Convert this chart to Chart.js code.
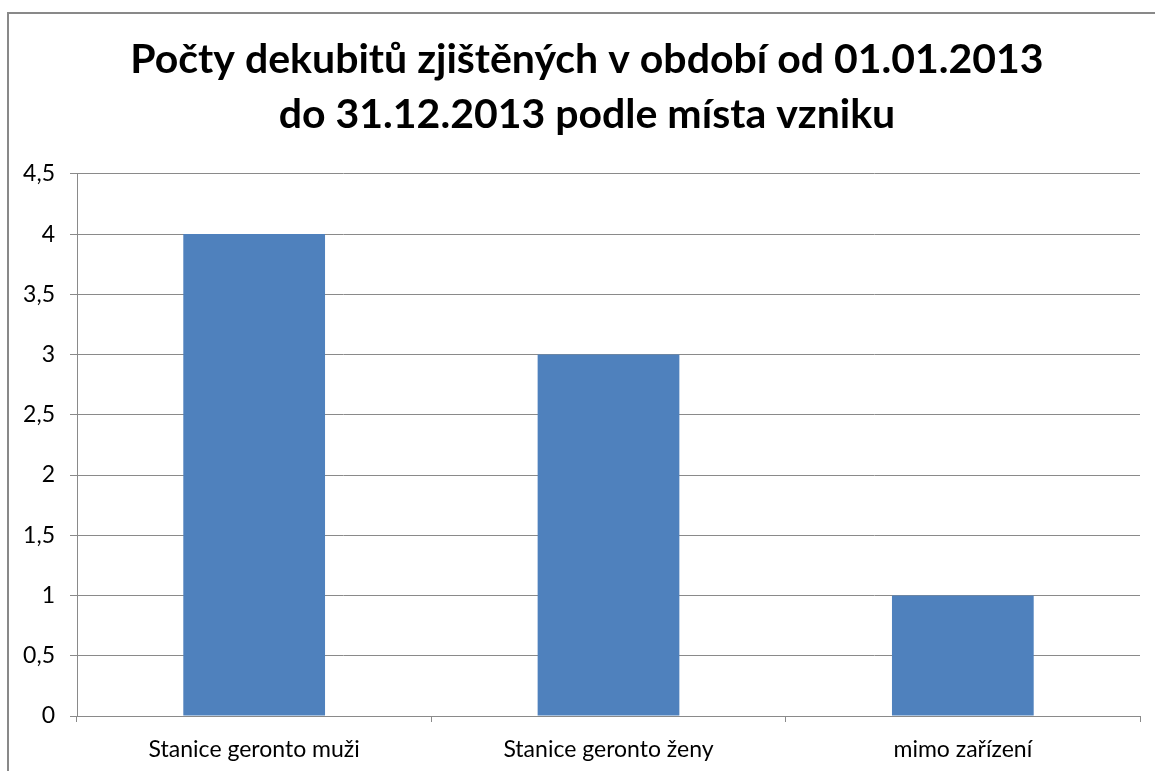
<!DOCTYPE html>
<html>
<head>
<meta charset="utf-8">
<script src="https://cdn.jsdelivr.net/npm/chart.js@4"></script>
<style>
  html, body { margin: 0; padding: 0; background: #fff; }
  #wrap { position: relative; width: 1155px; height: 771px; overflow: hidden; }
  #frame { position: absolute; left: 7px; top: 12px; width: 1200px; height: 800px; border: 2px solid #898989; box-sizing: border-box; }
  canvas { position: absolute; left: 0; top: 0; }
</style>
</head>
<body>
<div id="wrap">
  <div id="frame"></div>
  <canvas id="c" width="1155" height="771"></canvas>
</div>
<script>
const titleLines = ["Počty dekubitů zjištěných v období od 01.01.2013", "do 31.12.2013 podle místa vzniku"];
const categories = ["Stanice geronto muži", "Stanice geronto ženy", "mimo zařízení"];
const counts = [4, 3, 1];
const yMin = 0, yMax = 4.5, yStep = 0.5;

const gridColor = "#8a8a8a";

new Chart(document.getElementById("c"), {
  type: "bar",
  data: {
    labels: categories,
    datasets: [{
      data: counts,
      backgroundColor: "#4F81BD",
      borderWidth: 0,
      categoryPercentage: 1.0,
      barPercentage: 0.4,
      yAxisID: "y"
    }]
  },
  options: {
    responsive: false,
    animation: false,
    devicePixelRatio: 1,
    layout: { padding: { left: 19, right: 0, top: 0, bottom: 0 } },
    plugins: {
      legend: { display: false },
      tooltip: { enabled: false },
      title: {
        display: true,
        text: titleLines,
        color: "#000",
        font: { family: "Lato", size: 41, weight: "bold", lineHeight: 1.34 },
        padding: { top: 32, bottom: 32 }
      }
    },
    scales: {
      x: {
        grid: { display: true, drawOnChartArea: false, drawTicks: true, tickLength: 6, color: gridColor, offset: true },
        border: { display: true, color: gridColor, width: 1 },
        ticks: { color: "#000", font: { family: "Lato", size: 23 }, padding: 14 },
        afterFit: (s) => { s.height = 55; }
      },
      y: {
        min: yMin, max: yMax,
        grid: { color: gridColor, tickLength: 7, lineWidth: 1 },
        border: { display: true, color: gridColor, width: 1 },
        ticks: {
          stepSize: yStep,
          color: "#000",
          font: { family: "Lato", size: 23 },
          padding: 15,
          callback: (v) => String(v).replace(".", ",")
        },
        afterFit: (s) => { s.width = 58; }
      },
      y2: {
        position: "right",
        display: true,
        grid: { drawOnChartArea: false, drawTicks: false },
        border: { display: false },
        ticks: { display: false },
        afterFit: (s) => { s.width = 15; }
      }
    }
  }
});
</script>
</body>
</html>
